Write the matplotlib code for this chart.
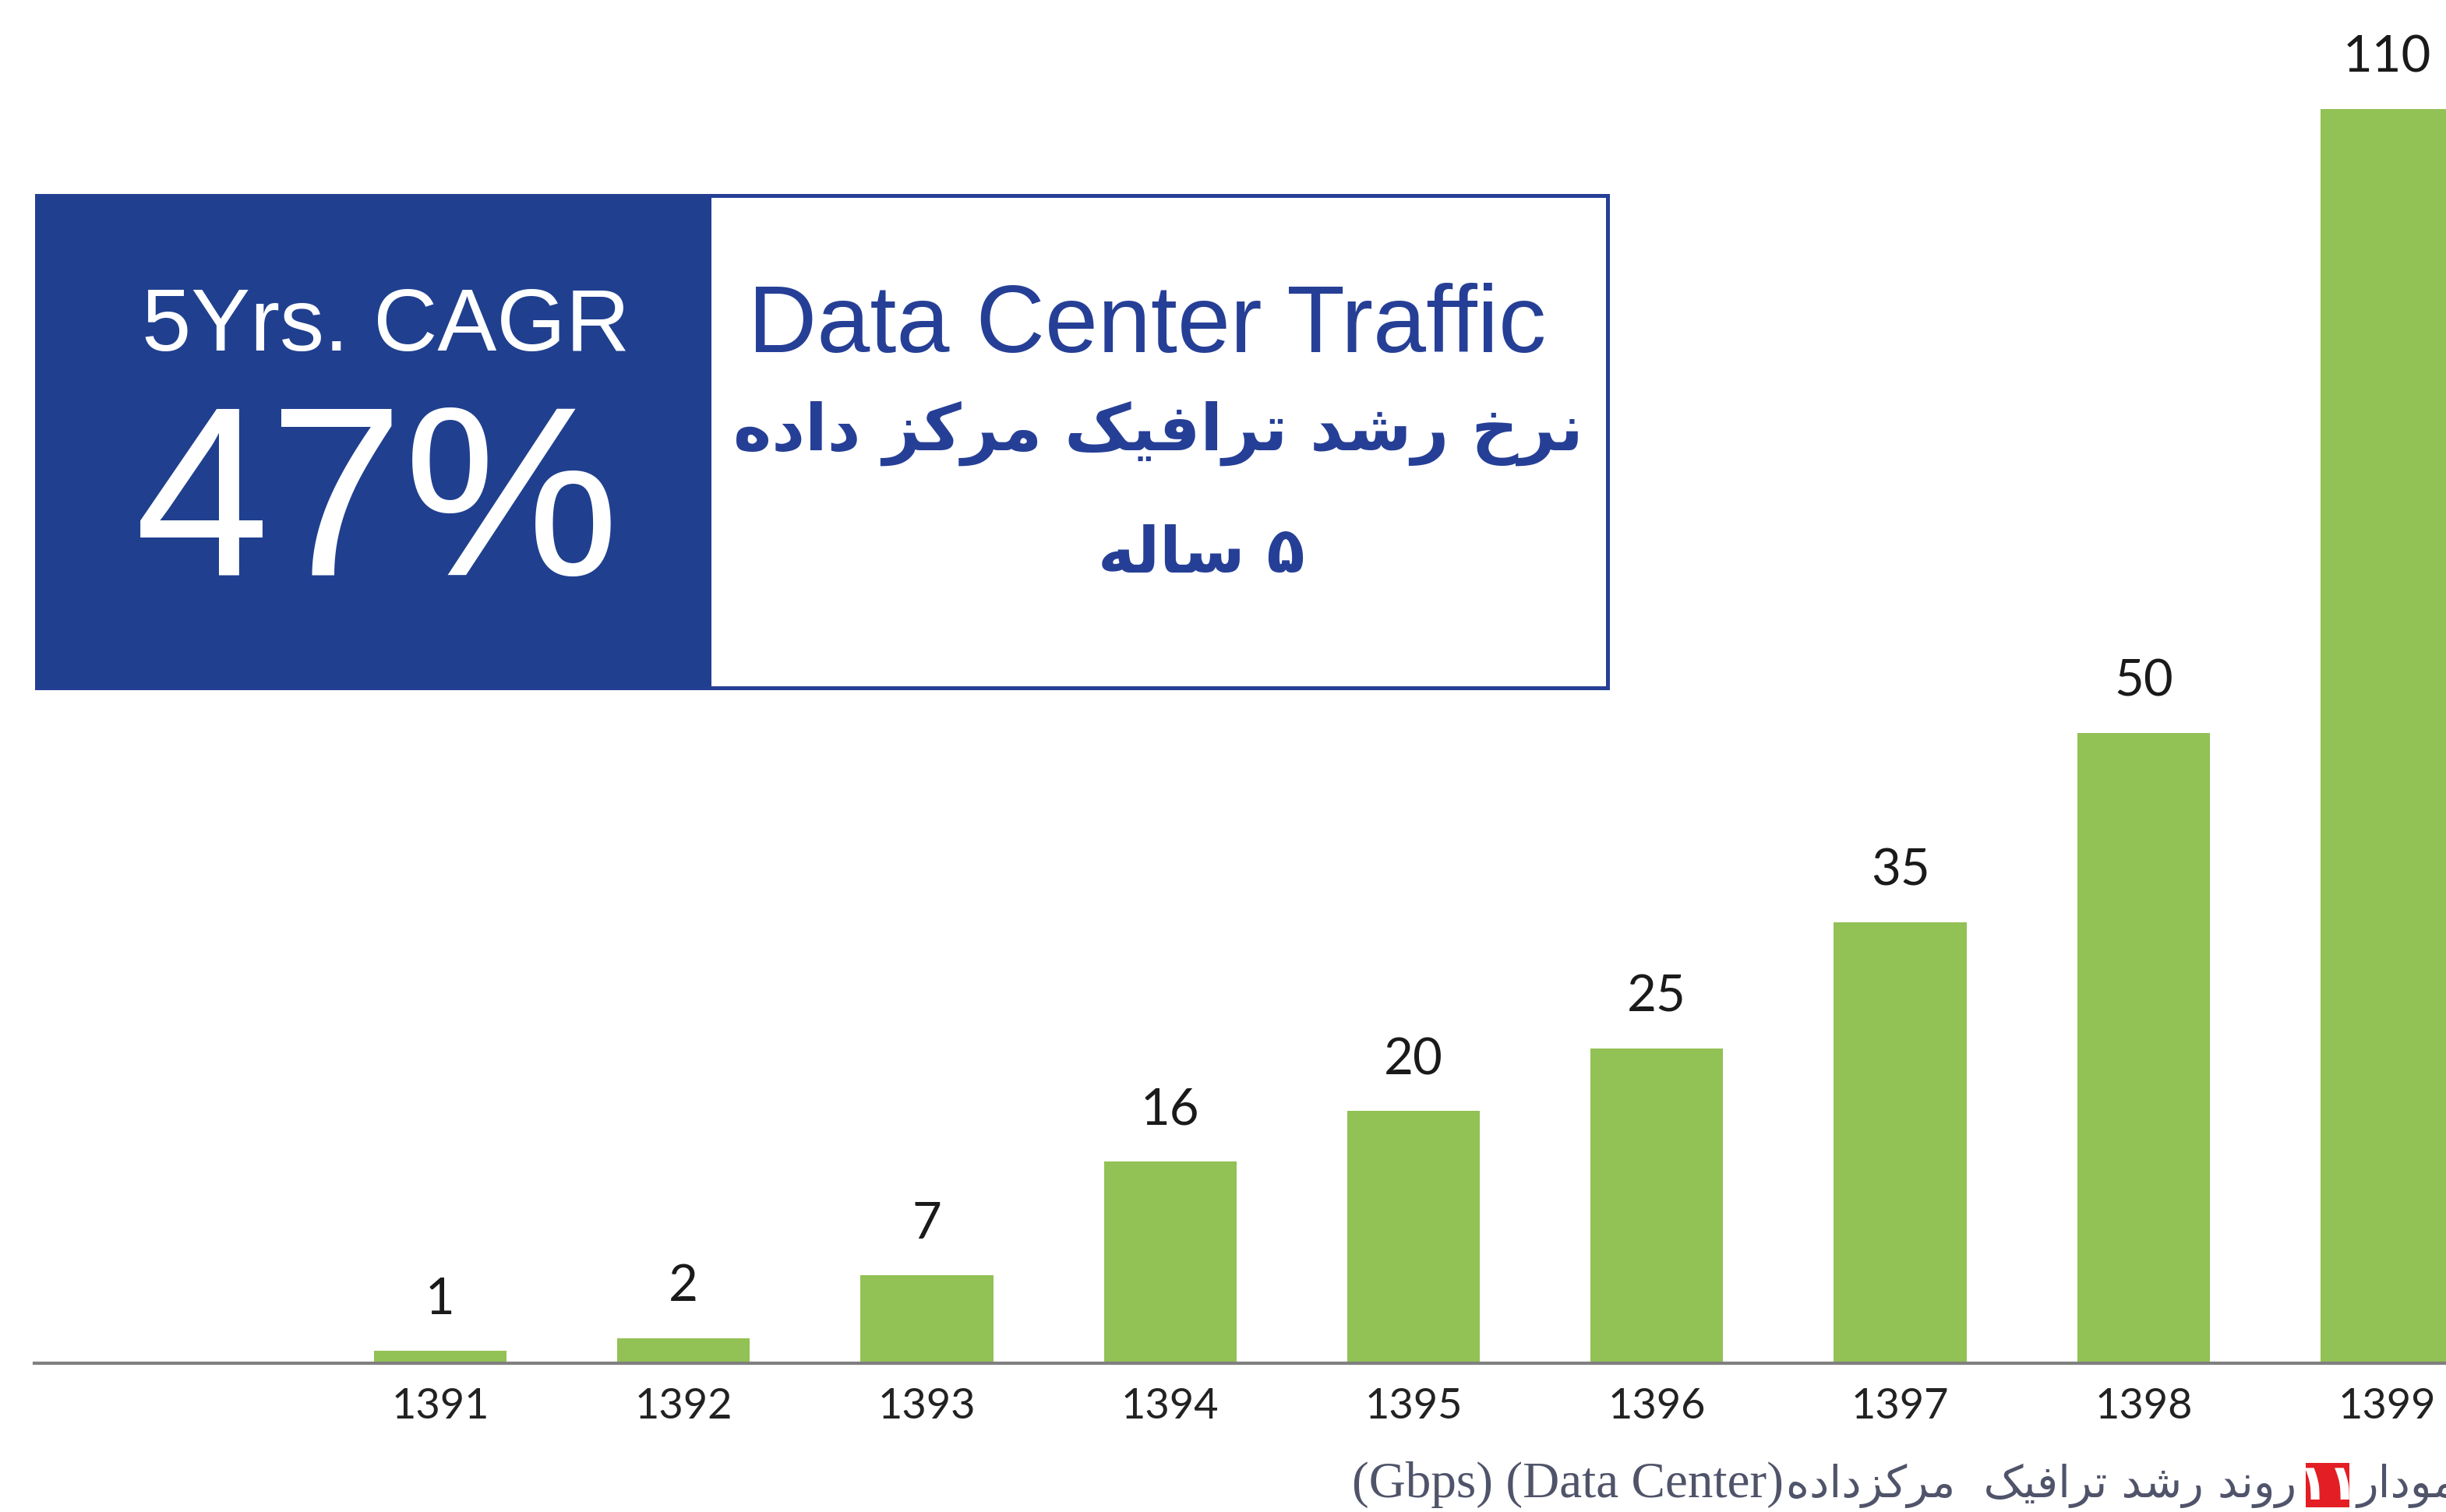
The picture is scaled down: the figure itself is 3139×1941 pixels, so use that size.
import matplotlib
matplotlib.use("Agg")
import matplotlib.pyplot as plt
from matplotlib.patches import Rectangle

# data
years = ["1391", "1392", "1393", "1394", "1395", "1396", "1397", "1398", "1399"]
values = [1, 2, 7, 16, 20, 25, 35, 50, 110]
# the 1399 bar is drawn shorter than its label in the original (about 100)
bar_heights = [1, 2, 7, 16, 20, 25, 35, 50, 99.5]

cagr_head = "5Yrs. CAGR"
cagr_value = "47%"
box_title = "Data Center Traffic"
box_title_fa = "نرخ رشد ترافیک مرکز داده"
box_sub_fa = "۵ ساله"
caption_latin = "(Gbps) (Data Center)"
caption_fa = "روند رشد ترافیک  مرکزداده"
caption_num = "۱۱"
caption_word = "نمودار"

# Persian letter forms: (isolated, final, initial, medial); right-joining letters have two
FORMS = {
    'ا': ('\uFE8D', '\uFE8E'),
    'د': ('\uFEA9', '\uFEAA'),
    'ر': ('\uFEAD', '\uFEAE'),
    'ز': ('\uFEAF', '\uFEB0'),
    'و': ('\uFEED', '\uFEEE'),
    'ن': ('\uFEE5', '\uFEE6', '\uFEE7', '\uFEE8'),
    'خ': ('\uFEA5', '\uFEA6', '\uFEA7', '\uFEA8'),
    'ش': ('\uFEB5', '\uFEB6', '\uFEB7', '\uFEB8'),
    'ت': ('\uFE95', '\uFE96', '\uFE97', '\uFE98'),
    'ف': ('\uFED1', '\uFED2', '\uFED3', '\uFED4'),
    'ی': ('\uFBFC', '\uFBFD', '\uFBFE', '\uFBFF'),
    'ک': ('\uFB8E', '\uFB8F', '\uFB90', '\uFB91'),
    'م': ('\uFEE1', '\uFEE2', '\uFEE3', '\uFEE4'),
    'ه': ('\uFEE9', '\uFEEA', '\uFEEB', '\uFEEC'),
    'س': ('\uFEB1', '\uFEB2', '\uFEB3', '\uFEB4'),
    'ل': ('\uFEDD', '\uFEDE', '\uFEDF', '\uFEE0'),
}


# matplotlib has no arabic shaping -> pick glyph forms by hand and reverse for display
def shape_fa(s):
    out = []
    for i, ch in enumerate(s):
        f = FORMS.get(ch)
        if f is None:
            out.append(ch)
            continue
        prev = s[i - 1] if i > 0 else ''
        nxt = s[i + 1] if i + 1 < len(s) else ''
        joins_prev = prev in FORMS and len(FORMS[prev]) == 4
        joins_next = len(f) == 4 and nxt in FORMS
        if joins_prev and joins_next:
            out.append(f[3])
        elif joins_prev:
            out.append(f[1])
        elif joins_next:
            out.append(f[2])
        else:
            out.append(f[0])
    return ''.join(reversed(out))


W, H = 3139, 1941
DPI = 100
fig = plt.figure(figsize=(W / DPI, H / DPI), dpi=DPI)
fig.patch.set_facecolor("white")


def fx(x):
    return x / W


def fy(y):
    return 1 - y / H


green = "#92c155"
blue = "#20408f"
blue_text = "#263f96"

# bar chart
axis_y = 1750
ax = fig.add_axes([0, fy(axis_y), 1, axis_y / H])
x = list(range(len(years)))
ax.bar(x, bar_heights, width=0.545, color=green, zorder=2)
ax.set_xlim(-1.809, 8.243)
ax.set_ylim(0, axis_y / 16.18)

for xi, yi, v in zip(x, bar_heights, values):
    ax.annotate(str(v), (xi, yi), xytext=(0, 34), textcoords="offset points",
                ha="center", va="baseline", fontsize=47, family="Lato", color="#1a1a1a")

ax.set_xticks(x)
ax.set_xticklabels(years, fontsize=39, family="Lato", color="#222222")
ax.tick_params(axis="x", length=0, pad=22)
ax.set_yticks([])
for s in ["left", "right", "top"]:
    ax.spines[s].set_visible(False)
ax.spines["bottom"].set_color("#7f7f7f")
ax.spines["bottom"].set_linewidth(3)
ax.spines["bottom"].set_bounds(-1.668, 8.243)
ax.set_facecolor("none")

# CAGR box
fig.add_artist(Rectangle((fx(47), fy(883)), fx(2063) - fx(47), fy(251) - fy(883),
                         transform=fig.transFigure, facecolor="white", edgecolor=blue_text, linewidth=3.6))
fig.add_artist(Rectangle((fx(47), fy(883)), fx(913) - fx(47), fy(251) - fy(883),
                         transform=fig.transFigure, facecolor=blue, edgecolor="none"))
fig.text(fx(495), fy(450), cagr_head, ha="center", va="baseline", fontsize=82,
         family="Liberation Sans", color="white")
fig.text(fx(484), fy(738), cagr_value, ha="center", va="baseline", fontsize=224,
         family="Liberation Sans", color="white")
fig.text(fx(1472), fy(452), box_title, ha="center", va="baseline", fontsize=88,
         family="Liberation Sans", color=blue_text)
fig.text(fx(1486), fy(556), shape_fa(box_title_fa), ha="center", va="center", fontsize=60,
         family="DejaVu Sans", weight="bold", color=blue_text)
fig.text(fx(1542), fy(713), shape_fa(box_sub_fa), ha="center", va="center", fontsize=58,
         family="DejaVu Sans", weight="bold", color=blue_text)

# caption line at the bottom
cap_color = "#50546a"
fig.text(fx(2289), fy(1922), caption_latin, ha="right", va="baseline", fontsize=47,
         family="Liberation Serif", color=cap_color)
fig.text(fx(2947), fy(1922), shape_fa(caption_fa), ha="right", va="baseline", fontsize=41,
         family="DejaVu Sans", color=cap_color)
fig.add_artist(Rectangle((fx(2959), fy(1935)), fx(3015) - fx(2959), fy(1878) - fy(1935),
                         transform=fig.transFigure, facecolor="#e31e24", edgecolor="none"))
fig.text(fx(2987), fy(1907), caption_num, ha="center", va="center", fontsize=46,
         family="DejaVu Sans", weight="bold", color="white")
fig.text(fx(3024), fy(1922), shape_fa(caption_word), ha="left", va="baseline", fontsize=41,
         family="DejaVu Sans", color=cap_color)

fig.savefig("out.png", dpi=DPI, facecolor="white")
